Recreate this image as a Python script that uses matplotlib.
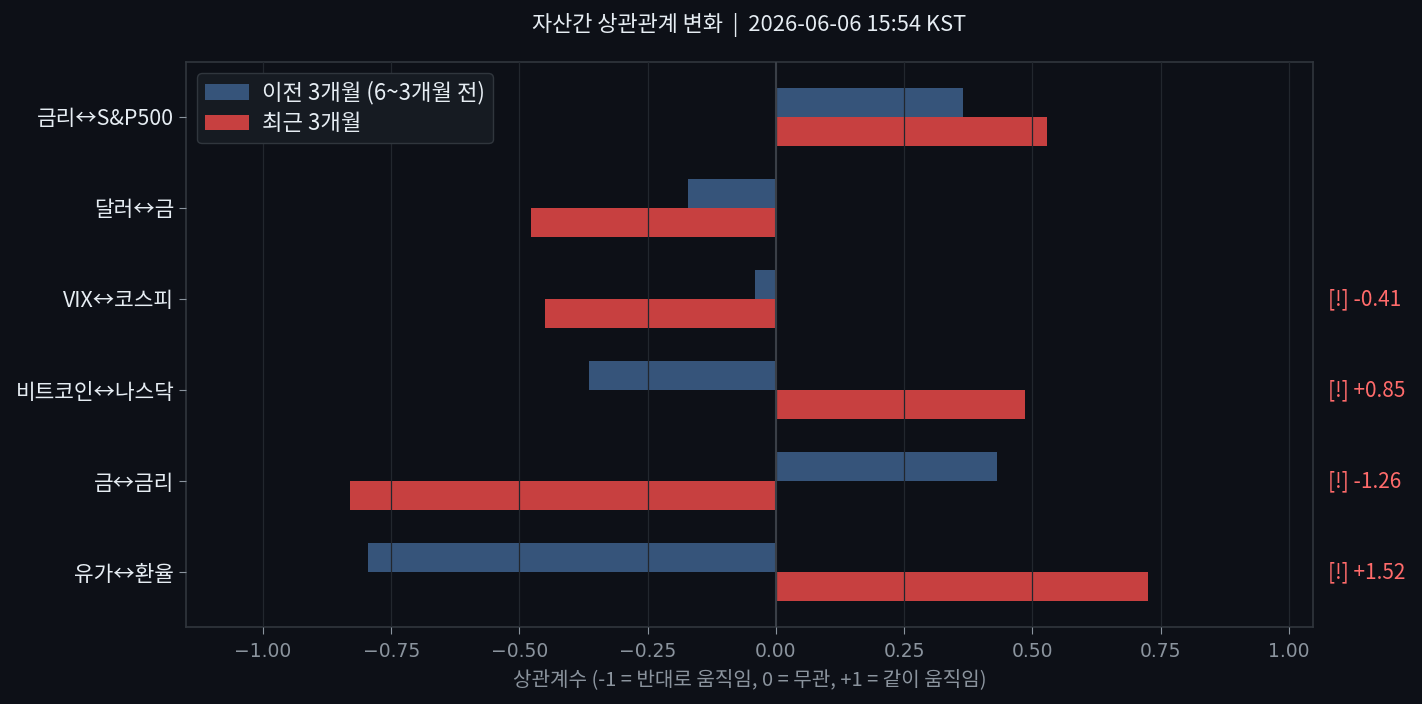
import numpy as np
import matplotlib
matplotlib.use("Agg")
import matplotlib.pyplot as plt

# 자산쌍별 상관계수 (이전 3개월 vs 최근 3개월)
pairs = ['금리↔S&P500', '달러↔금', 'VIX↔코스피', '비트코인↔나스닥', '금↔금리', '유가↔환율']
corr_prev = [0.365, -0.172, -0.040, -0.365, 0.430, -0.795]
corr_recent = [0.528, -0.478, -0.450, 0.485, -0.830, 0.725]
flag_limit = 0.4   # 변화폭 경고 기준

BG = '#0d1017'
GRID = '#22272e'
SPINE = '#30363d'
TEXT = '#e6edf3'
MUTED = '#8b949e'
KR = ['Noto Sans CJK KR', 'DejaVu Sans']

fig, ax = plt.subplots(figsize=(14.22, 7.04), dpi=100)
fig.patch.set_facecolor(BG)
ax.set_facecolor(BG)
fig.subplots_adjust(left=0.1308, right=0.9234, top=0.9119, bottom=0.1094)

y = np.arange(len(pairs))
h = 0.32
ax.barh(y - h / 2, corr_prev, h, color='#36547a', label='이전 3개월 (6~3개월 전)')
ax.barh(y + h / 2, corr_recent, h, color='#c74040', label='최근 3개월')

ax.axvline(0, color='#3a3f47', linewidth=1.5, zorder=3)
ax.set_axisbelow(False)
ax.grid(axis='x', color=GRID, linewidth=0.9)

ax.set_yticks(y)
ax.set_yticklabels(pairs, fontsize=15.4, color=TEXT, family=KR)
ax.invert_yaxis()
ax.set_xlim(-1.15, 1.047)
ax.set_xticks(np.arange(-1.0, 1.01, 0.25))
ax.tick_params(axis='x', colors=MUTED, labelsize=13.5, length=5, pad=6)
ax.tick_params(axis='y', colors=MUTED, labelcolor=TEXT, length=5)
for s in ax.spines.values():
    s.set_color(SPINE)
    s.set_linewidth(1.2)

ax.set_xlabel('상관계수 (-1 = 반대로 움직임, 0 = 무관, +1 = 같이 움직임)',
              fontsize=14.5, color=MUTED, family=KR, labelpad=6)
ax.set_title('자산간 상관관계 변화  |  2026-06-06 15:54 KST',
             fontsize=15.8, color=TEXT, pad=22, family=KR)

# 변화폭이 큰 쌍 표시
for i, (a, b) in enumerate(zip(corr_prev, corr_recent)):
    d = b - a
    if abs(d) >= flag_limit:
        ax.text(1.0135, i, f'[!] {d:+.2f}', transform=ax.get_yaxis_transform(),
                color='#ff6b6b', fontsize=15, va='center', ha='left', family=KR)

leg = ax.legend(loc='upper left', prop={'family': KR, 'size': 16},
                facecolor='#161b22', edgecolor=SPINE, framealpha=1,
                labelspacing=0.35, handletextpad=0.58, borderpad=0.35)
for t in leg.get_texts():
    t.set_color(TEXT)

plt.savefig('out.png', dpi=100, facecolor=BG)
